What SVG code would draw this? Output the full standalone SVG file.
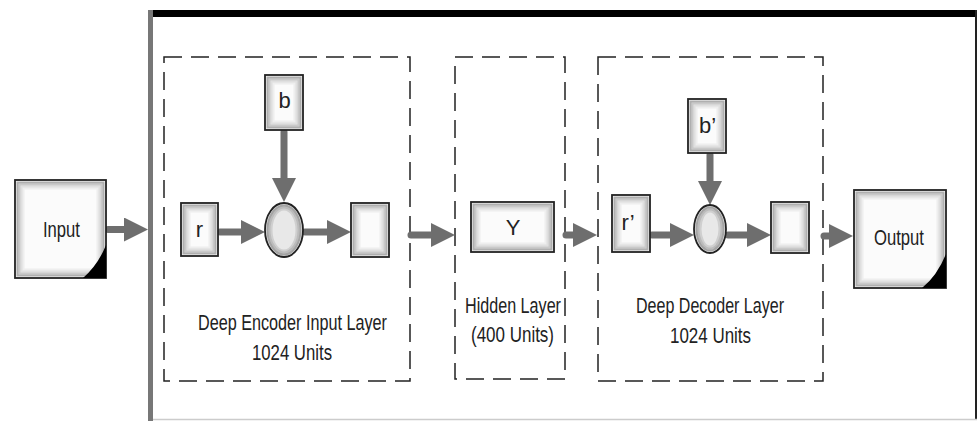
<svg xmlns="http://www.w3.org/2000/svg" width="979" height="421" viewBox="0 0 979 421">
<defs>
<marker id="ah" markerUnits="userSpaceOnUse" viewBox="0 0 24 24" markerWidth="24" markerHeight="24" refX="12" refY="12" orient="auto">
<path d="M0,0 L24,12 L0,24 Z" fill="#6e6e6e"/>
</marker>
</defs>
<style>
.node{fill:#fbfbfb;stroke:#222;stroke-width:1.8}
.circ{fill:#e8e8e8;stroke:#222;stroke-width:1.8}
.s1{fill:none;stroke:#444;stroke-opacity:.42;stroke-width:2}
.s2{fill:none;stroke:#444;stroke-opacity:.27;stroke-width:2}
.s3{fill:none;stroke:#444;stroke-opacity:.15;stroke-width:2}
.s4{fill:none;stroke:#444;stroke-opacity:.07;stroke-width:2}
.dash{fill:none;stroke:#222;stroke-width:1.5;stroke-dasharray:18 9}
.arr{fill:none;stroke:#6e6e6e;stroke-width:7;stroke-linecap:round;marker-end:url(#ah)}
.fold{fill:#000}
text{font-family:"Liberation Sans",Arial,sans-serif;font-size:22px;fill:#222;text-anchor:middle}
</style>
<rect x="0" y="0" width="979" height="421" fill="#fff"/>

<g id="frame">
<rect x="148" y="10" width="829" height="7" fill="#000"/>
<line x1="150.5" y1="10" x2="150.5" y2="421" stroke="#777" stroke-width="5"/>
<line x1="976" y1="10" x2="976" y2="419" stroke="#222" stroke-width="2"/>
<line x1="153" y1="419.5" x2="977" y2="419.5" stroke="#ccc" stroke-width="1.5"/>
</g>

<g id="encoder-layer">
<rect class="dash" x="164" y="57" width="246" height="324"/>
<text x="292.5" y="330" textLength="189" lengthAdjust="spacingAndGlyphs">Deep Encoder Input Layer</text>
<text x="292" y="360" textLength="80" lengthAdjust="spacingAndGlyphs">1024 Units</text>
</g>
<g id="hidden-layer">
<rect class="dash" x="455" y="57" width="110" height="322"/>
<text x="513" y="313" textLength="96" lengthAdjust="spacingAndGlyphs">Hidden Layer</text>
<text x="512.5" y="342" textLength="83" lengthAdjust="spacingAndGlyphs">(400 Units)</text>
</g>
<g id="decoder-layer">
<rect class="dash" x="598" y="57" width="225" height="324"/>
<text x="710" y="313" textLength="148" lengthAdjust="spacingAndGlyphs">Deep Decoder Layer</text>
<text x="710.5" y="343" textLength="81" lengthAdjust="spacingAndGlyphs">1024 Units</text>
</g>

<g id="connectors">
<line class="arr" x1="108" y1="229.5" x2="136" y2="229.5"/>
<line class="arr" x1="220" y1="232" x2="253" y2="232"/>
<line class="arr" x1="284" y1="132" x2="284" y2="190"/>
<line class="arr" x1="305" y1="232" x2="339" y2="232"/>
<line class="arr" x1="411" y1="235" x2="443" y2="235"/>
<line class="arr" x1="566" y1="235" x2="585" y2="235"/>
<line class="arr" x1="652" y1="235" x2="682" y2="235"/>
<line class="arr" x1="710" y1="155" x2="710" y2="193"/>
<line class="arr" x1="728" y1="235" x2="759" y2="235"/>
<line class="arr" x1="824" y1="236" x2="841" y2="236"/>
</g>

<g id="input">
<rect class="node" x="15" y="180" width="91" height="98"/>
<rect class="s1" x="17.5" y="182.5" width="86" height="93"/>
<rect class="s2" x="19.5" y="184.5" width="82" height="89"/>
<rect class="s3" x="21.5" y="186.5" width="78" height="85"/>
<rect class="s4" x="23.5" y="188.5" width="74" height="81"/>
<path class="fold" d="M83,278 L106,278 L106,245 Q98,265 83,278 Z"/>
<text x="61.5" y="237" textLength="37" lengthAdjust="spacingAndGlyphs">Input</text>
</g>
<g id="r">
<rect class="node" x="181" y="203" width="37" height="53"/>
<rect class="s1" x="183.5" y="205.5" width="32" height="48"/>
<rect class="s2" x="185.5" y="207.5" width="28" height="44"/>
<rect class="s3" x="187.5" y="209.5" width="24" height="40"/>
<rect class="s4" x="189.5" y="211.5" width="20" height="36"/>
<text x="199.5" y="237">r</text>
</g>
<g id="b">
<rect class="node" x="265" y="75" width="38" height="55"/>
<rect class="s1" x="267.5" y="77.5" width="33" height="50"/>
<rect class="s2" x="269.5" y="79.5" width="29" height="46"/>
<rect class="s3" x="271.5" y="81.5" width="25" height="42"/>
<rect class="s4" x="273.5" y="83.5" width="21" height="38"/>
<text x="284.5" y="108">b</text>
</g>
<g id="sum-enc">
<ellipse class="circ" cx="284" cy="230" rx="19" ry="27"/>
<ellipse class="s1" cx="284" cy="230" rx="16.5" ry="24.5"/>
<ellipse class="s2" cx="284" cy="230" rx="14.5" ry="22.5"/>
<ellipse class="s3" cx="284" cy="230" rx="12.5" ry="20.5"/>
</g>
<g id="out-enc">
<rect class="node" x="351" y="203" width="38" height="54"/>
<rect class="s1" x="353.5" y="205.5" width="33" height="49"/>
<rect class="s2" x="355.5" y="207.5" width="29" height="45"/>
<rect class="s3" x="357.5" y="209.5" width="25" height="41"/>
<rect class="s4" x="359.5" y="211.5" width="21" height="37"/>
</g>
<g id="y">
<rect class="node" x="471" y="202" width="83" height="50"/>
<rect class="s1" x="473.5" y="204.5" width="78" height="45"/>
<rect class="s2" x="475.5" y="206.5" width="74" height="41"/>
<rect class="s3" x="477.5" y="208.5" width="70" height="37"/>
<rect class="s4" x="479.5" y="210.5" width="66" height="33"/>
<text x="513" y="235">Y</text>
</g>
<g id="r-prime">
<rect class="node" x="612" y="195" width="38" height="57"/>
<rect class="s1" x="614.5" y="197.5" width="33" height="52"/>
<rect class="s2" x="616.5" y="199.5" width="29" height="48"/>
<rect class="s3" x="618.5" y="201.5" width="25" height="44"/>
<rect class="s4" x="620.5" y="203.5" width="21" height="40"/>
<text x="628" y="230">r’</text>
</g>
<g id="b-prime">
<rect class="node" x="688" y="99" width="38" height="54"/>
<rect class="s1" x="690.5" y="101.5" width="33" height="49"/>
<rect class="s2" x="692.5" y="103.5" width="29" height="45"/>
<rect class="s3" x="694.5" y="105.5" width="25" height="41"/>
<rect class="s4" x="696.5" y="107.5" width="21" height="37"/>
<text x="707.5" y="133">b’</text>
</g>
<g id="sum-dec">
<ellipse class="circ" cx="710" cy="229" rx="16" ry="24"/>
<ellipse class="s1" cx="710" cy="229" rx="13.5" ry="21.5"/>
<ellipse class="s2" cx="710" cy="229" rx="11.5" ry="19.5"/>
<ellipse class="s3" cx="710" cy="229" rx="9.5" ry="17.5"/>
</g>
<g id="out-dec">
<rect class="node" x="771" y="202" width="38" height="51"/>
<rect class="s1" x="773.5" y="204.5" width="33" height="46"/>
<rect class="s2" x="775.5" y="206.5" width="29" height="42"/>
<rect class="s3" x="777.5" y="208.5" width="25" height="38"/>
<rect class="s4" x="779.5" y="210.5" width="21" height="34"/>
</g>
<g id="output">
<rect class="node" x="854" y="190" width="92" height="98"/>
<rect class="s1" x="856.5" y="192.5" width="87" height="93"/>
<rect class="s2" x="858.5" y="194.5" width="83" height="89"/>
<rect class="s3" x="860.5" y="196.5" width="79" height="85"/>
<rect class="s4" x="862.5" y="198.5" width="75" height="81"/>
<path class="fold" d="M922,288 L946,288 L946,254 Q937,276 922,288 Z"/>
<text x="899" y="245" textLength="50" lengthAdjust="spacingAndGlyphs">Output</text>
</g>
</svg>
